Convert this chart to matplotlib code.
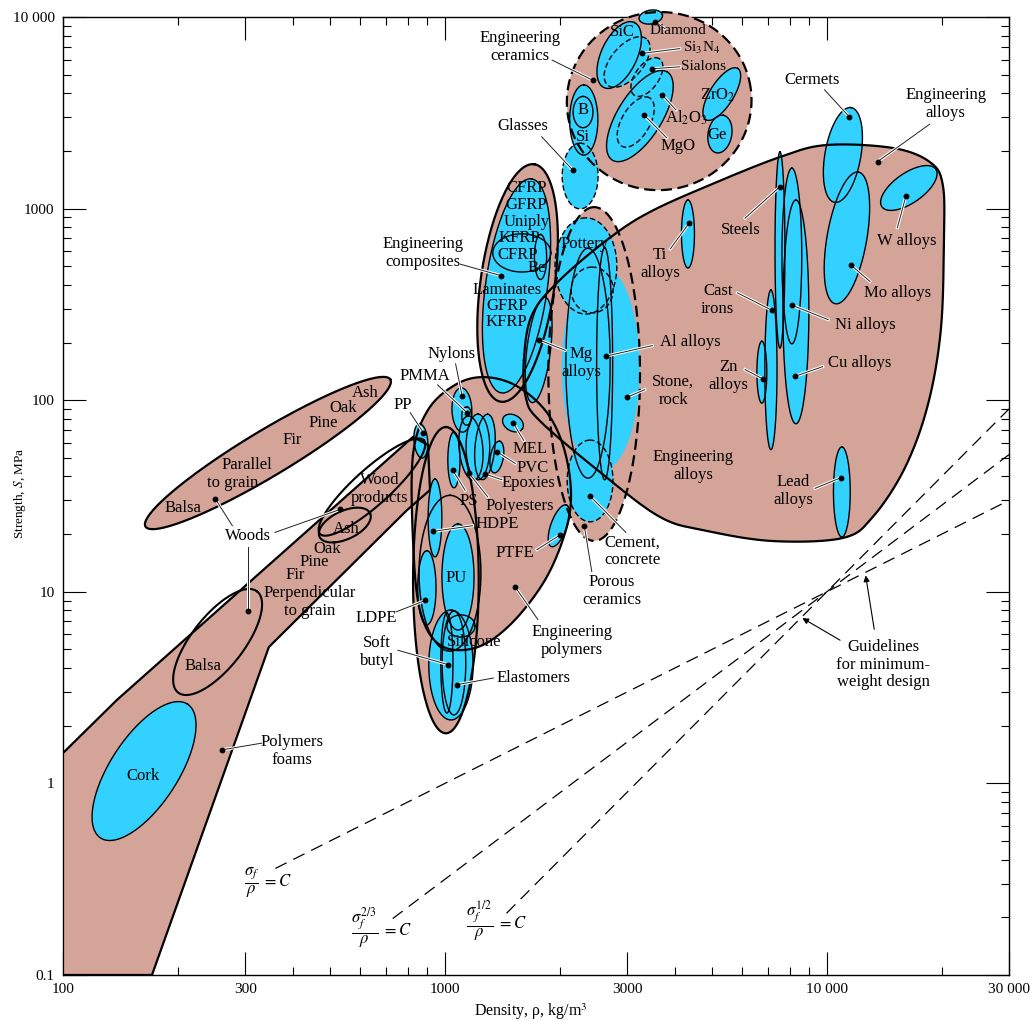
import numpy as np
import matplotlib
matplotlib.use('Agg')
import matplotlib.pyplot as plt
from matplotlib import patheffects as pe
from matplotlib.ticker import NullFormatter

plt.rcParams['font.family'] = ['Liberation Serif', 'DejaVu Serif']
plt.rcParams['mathtext.fontset'] = 'stix'

BROWN = '#d5a499'
CYAN = '#33d1ff'

# ---------------- data ----------------
# elliptical envelopes: centre density (kg/m3), centre strength (MPa),
# half axes (in decades of density on the paper) and tilt (deg)
env_names = ['Woods, parallel to grain', 'Engineering composites', 'Porous ceramics',
             'Elastomers', 'Engineering ceramics']
env_rho = [344, 1550, 2460, 1006, 3640]
env_S = [53.0, 409, 137, 11.5, 3640]
env_a = [0.374, 0.314, 0.437, 0.401, 0.242]
env_b = [0.060, 0.097, 0.120, 0.086, 0.233]
env_tilt = [31, 82, 90, 90, 8]
env_dashed = [False, False, True, False, True]

# free-form envelopes (outline points)
foam_rho = [100, 100, 138.5, 825, 903, 914, 796, 346, 171]
foam_S = [0.1, 1.44, 2.73, 64.3, 58.4, 34.0, 26.7, 5.15, 0.1]
alloy_rho = [1610, 1690, 2000, 2700, 3440, 4940, 7540, 10000, 14890, 18610, 20130,
             20260, 19890, 18390, 16010, 13200, 11020, 7230, 4850, 3655, 2546, 1774, 1630]
alloy_S = [162, 278, 424, 703, 960, 1328, 1859, 2148, 2072, 1751, 1328,
           686, 233, 94.4, 44.3, 24.6, 19.1, 18.4, 20.8, 24.6, 42.2, 77.9, 102.7]
polymer_rho = [825, 903, 1062, 1258, 1525, 1828, 2037, 2138, 2074, 1828, 1480, 1198, 970, 860, 825]
polymer_S = [51.8, 88.9, 120, 132, 120, 88.9, 58.4, 34.0, 21.0, 11.5, 6.71, 5.09, 5.28, 8.04, 18.6]

# material bubbles
bub_names = ['Cork', 'Glasses', 'B', 'B core', 'Diamond', 'Al2O3', 'SiC', 'Si3N4', 'Sialons',
             'MgO', 'ZrO2', 'Ge', 'Composites', 'Be', 'Mg alloys', 'Stone', 'Pottery', 'Cement',
             'PP', 'Nylons', 'PMMA', 'PS', 'Polyesters', 'Polyesters 2', 'Epoxies', 'PVC', 'MEL',
             'HDPE', 'LDPE', 'PU', 'Elastomers', 'Silicone', 'PTFE', 'Ti alloys', 'Cermets',
             'Mo alloys', 'W alloys', 'Cu alloys', 'Ni alloys', 'Steels', 'Cast irons',
             'Zn alloys', 'Lead alloys']
bub_rho = [163, 2260, 2310, 2300, 3460, 3240, 2860, 3000, 3380,
           3160, 5310, 5250, 1540, 1780, 1760, 2560, 2340, 2400,
           865, 1108, 1140, 1056, 1170, 1220, 1273, 1368, 1507,
           942, 897, 1082, 1037, 1102, 1988, 4330, 11020,
           11290, 16400, 8300, 8100, 7540, 7140, 6760, 10950]
bub_S = [1.16, 1480, 2900, 3190, 10000, 3040, 6330, 5820, 4860,
         2830, 3960, 2450, 395, 559, 183, 147, 502, 37.9,
         61.3, 88.9, 82.7, 48.8, 56.3, 57.0, 57.0, 50.5, 76.0,
         24.3, 10.5, 11.95, 4.15, 6.63, 22.1, 737, 1905,
         703, 1281, 289, 566, 608, 144, 140, 33.2]
bub_a = [0.209, 0.086, 0.092, 0.041, 0.031, 0.136, 0.094, 0.079, 0.058,
         0.073, 0.079, 0.050, 0.283, 0.059, 0.139, 0.270, 0.126, 0.107,
         0.045, 0.058, 0.024, 0.073, 0.084, 0.086, 0.086, 0.042, 0.029,
         0.102, 0.097, 0.139, 0.144, 0.037, 0.058, 0.089, 0.126,
         0.175, 0.086, 0.293, 0.230, 0.257, 0.209, 0.081, 0.118]
bub_b = [0.089, 0.047, 0.037, 0.026, 0.018, 0.058, 0.047, 0.042, 0.031,
         0.037, 0.031, 0.031, 0.081, 0.016, 0.031, 0.102, 0.081, 0.060,
         0.018, 0.026, 0.013, 0.016, 0.031, 0.031, 0.026, 0.017, 0.021,
         0.018, 0.024, 0.042, 0.058, 0.029, 0.021, 0.017, 0.047,
         0.052, 0.039, 0.034, 0.026, 0.013, 0.016, 0.013, 0.022]
bub_tilt = [57, 90, 90, 90, 10, 58, 65, 50, 55,
            60, 58, 80, 82, 90, 83, 90, 90, 90,
            95, 92, 90, 90, 95, 90, 85, 80, -30,
            90, 90, 90, 90, 0, 70, 90, 80,
            80, 35, 90, 90, 90, 90, 90, 90]
bub_edge = ['solid', 'dashed', 'solid', 'solid', 'solid', 'solid', 'solid', 'dashed', 'dashed',
            'dashed', 'solid', 'solid', 'solid', 'solid', 'solid', 'none', 'dashed', 'dashed'] + \
           ['solid'] * 25

# outline-only sub-groups
sub_rho = [1590, 2430, 2620, 2370, 1031, 1056, 1012, 644, 547, 254]
sub_S = [587, 376, 155, 156, 12.5, 4.25, 4.25, 35.2, 22.3, 5.47]
sub_a = [0.076, 0.060, 0.304, 0.301, 0.204, 0.136, 0.131, 0.183, 0.073, 0.168]
sub_b = [0.050, 0.055, 0.021, 0.058, 0.081, 0.031, 0.016, 0.047, 0.037, 0.068]
sub_tilt = [0, 90, 90, 90, 90, 90, 90, 42, 25, 52]
sub_dashed = [False, True, False, False, False, False, False, False, False, False]
sub_width = [1.0, 1.0, 1.0, 1.0, 1.1, 1.0, 1.0, 1.5, 1.5, 1.5]

# minimum-weight guidelines (end points)
guide_rho = [[360, 30000], [730, 30000], [1450, 30000]]
guide_S = [[0.36, 30], [0.197, 52], [0.21, 90]]

# ---------------- figure ----------------
fig = plt.figure(figsize=(10.34, 10.21), dpi=100)
ax = fig.add_axes([63 / 1034, 46 / 1021, 946 / 1034, 958 / 1021])
ax.set_xscale('log')
ax.set_yscale('log')
ax.set_xlim(100, 30000)
ax.set_ylim(0.1, 10000)

pos = ax.get_position()
k = (pos.height * fig.get_figheight() / 5) / (pos.width * fig.get_figwidth() / np.log10(300))


def ellipse(rho, s, a, b, tilt, n=240):
    t = np.linspace(0, 2 * np.pi, n)
    u, v = a * np.cos(t), b * np.sin(t)
    th = np.radians(tilt)
    x = u * np.cos(th) - v * np.sin(th)
    y = u * np.sin(th) + v * np.cos(th)
    return 10 ** (np.log10(rho) + x), 10 ** (np.log10(s) + y / k)


def smooth(rho, s, n=24):
    p = np.column_stack([np.log10(rho), np.log10(s) * k])
    m = len(p)
    t = np.linspace(0, 1, n, endpoint=False)[:, None]
    out = []
    for i in range(m):
        p0, p1, p2, p3 = p[i - 1], p[i], p[(i + 1) % m], p[(i + 2) % m]
        out.append(0.5 * (2 * p1 + (p2 - p0) * t + (2 * p0 - 5 * p1 + 4 * p2 - p3) * t ** 2
                          + (3 * p1 - p0 - 3 * p2 + p3) * t ** 3))
    out = np.vstack(out + [out[0][:1]])
    return 10 ** out[:, 0], 10 ** (out[:, 1] / k)


DASH = (0, (5, 2.5))
envs = [(list(foam_rho) + [foam_rho[0]], list(foam_S) + [foam_S[0]], False, True)]
for i in range(len(env_names)):
    xy = ellipse(env_rho[i], env_S[i], env_a[i], env_b[i], env_tilt[i])
    envs.append((xy[0], xy[1], env_dashed[i], env_names[i] != 'Engineering ceramics'))
envs.insert(2, (*smooth(alloy_rho, alloy_S), False, True))
envs.insert(5, (*smooth(polymer_rho, polymer_S), False, True))

for x, y, dashed, clip in envs:
    ax.fill(x, y, color=BROWN, lw=0, zorder=1, clip_on=clip)
    ax.plot(x, y, color='k', lw=1.6, ls=DASH if dashed else '-', zorder=3, clip_on=clip)

for gx, gy in zip(guide_rho, guide_S):
    ax.plot(gx, gy, color='k', lw=0.9, ls=(0, (10, 6)), zorder=1.2)

for i in range(len(bub_names)):
    x, y = ellipse(bub_rho[i], bub_S[i], bub_a[i], bub_b[i], bub_tilt[i])
    top = bub_S[i] > 8000
    ax.fill(x, y, color=CYAN, lw=0, zorder=2, clip_on=not top)
    if bub_edge[i] != 'none':
        ax.plot(x, y, color='k', lw=1.0, ls=(0, (4, 2)) if bub_edge[i] == 'dashed' else '-',
                zorder=2.2, clip_on=not top)

for i in range(len(sub_rho)):
    x, y = ellipse(sub_rho[i], sub_S[i], sub_a[i], sub_b[i], sub_tilt[i])
    ax.plot(x, y, color='k', lw=sub_width[i], ls=(0, (4, 2)) if sub_dashed[i] else '-', zorder=2.4)

# ---------------- labels ----------------
labels = [
    ('Engineering\nceramics', 0.483, 0.969), ('SiC', 0.591, 0.984), ('Diamond', 0.650, 0.986),
    ('Si$_3$N$_4$', 0.675, 0.968), ('Sialons', 0.677, 0.948), ('ZrO$_2$', 0.692, 0.918),
    ('Al$_2$O$_3$', 0.659, 0.895), ('MgO', 0.650, 0.865), ('Ge', 0.691, 0.877),
    ('B', 0.550, 0.903), ('Si', 0.550, 0.875), ('Glasses', 0.486, 0.886),
    ('Cermets', 0.792, 0.934), ('Engineering\nalloys', 0.933, 0.909),
    ('CFRP', 0.490, 0.821), ('GFRP', 0.490, 0.804), ('Uniply', 0.490, 0.786),
    ('KFRP', 0.482, 0.769), ('CFRP', 0.481, 0.752), ('Be', 0.501, 0.738),
    ('Engineering\ncomposites', 0.381, 0.754), ('Laminates', 0.469, 0.715),
    ('GFRP', 0.469, 0.698), ('KFRP', 0.469, 0.682), ('Pottery', 0.551, 0.763),
    ('Ti\nalloys', 0.631, 0.742), ('Steels', 0.716, 0.778), ('W alloys', 0.892, 0.766),
    ('Mo alloys', 0.882, 0.712), ('Cast\nirons', 0.692, 0.705), ('Ni alloys', 0.848, 0.678),
    ('Al alloys', 0.663, 0.661), ('Cu alloys', 0.842, 0.639), ('Zn\nalloys', 0.703, 0.625),
    ('Stone,\nrock', 0.645, 0.610), ('Mg\nalloys', 0.548, 0.639),
    ('Engineering\nalloys', 0.666, 0.531), ('Lead\nalloys', 0.772, 0.505),
    ('Nylons', 0.411, 0.648), ('PMMA', 0.383, 0.625), ('PP', 0.359, 0.595),
    ('MEL', 0.494, 0.549), ('PVC', 0.496, 0.529), ('Epoxies', 0.492, 0.514),
    ('PS', 0.429, 0.495), ('Polyesters', 0.483, 0.490), ('HDPE', 0.459, 0.471),
    ('PTFE', 0.478, 0.440), ('Cement,\nconcrete', 0.602, 0.442),
    ('Porous\nceramics', 0.580, 0.401), ('PU', 0.416, 0.414),
    ('Engineering\npolymers', 0.538, 0.349), ('LDPE', 0.331, 0.373),
    ('Silicone', 0.435, 0.348), ('Soft\nbutyl', 0.332, 0.337), ('Elastomers', 0.497, 0.310),
    ('Ash', 0.319, 0.607), ('Oak', 0.296, 0.592), ('Pine', 0.275, 0.576), ('Fir', 0.242, 0.558),
    ('Parallel', 0.194, 0.532), ('to grain', 0.179, 0.514), ('Balsa', 0.127, 0.487),
    ('Woods', 0.196, 0.458), ('Wood\nproducts', 0.335, 0.507),
    ('Ash', 0.299, 0.466), ('Oak', 0.279, 0.445), ('Pine', 0.266, 0.431), ('Fir', 0.245, 0.418),
    ('Perpendicular', 0.261, 0.399), ('to grain', 0.261, 0.380),
    ('Balsa', 0.148, 0.323), ('Cork', 0.085, 0.208), ('Polymers\nfoams', 0.242, 0.234),
    ('Guidelines\nfor minimum-\nweight design', 0.867, 0.324),
]
small_labels = ['Diamond', 'Si$_3$N$_4$', 'Sialons']
leaders = [
    (0.517, 0.955, 0.560, 0.934), (0.636, 0.988, 0.626, 0.995), (0.652, 0.967, 0.612, 0.962),
    (0.652, 0.948, 0.623, 0.946), (0.648, 0.903, 0.633, 0.919), (0.638, 0.874, 0.614, 0.898),
    (0.506, 0.875, 0.539, 0.840), (0.805, 0.924, 0.831, 0.896), (0.916, 0.888, 0.861, 0.849),
    (0.420, 0.742, 0.463, 0.730), (0.642, 0.758, 0.662, 0.785), (0.721, 0.790, 0.758, 0.823),
    (0.882, 0.780, 0.891, 0.813), (0.853, 0.724, 0.833, 0.741), (0.713, 0.712, 0.749, 0.694),
    (0.809, 0.684, 0.771, 0.699), (0.623, 0.657, 0.574, 0.646), (0.803, 0.635, 0.774, 0.625),
    (0.721, 0.632, 0.740, 0.622), (0.615, 0.611, 0.596, 0.603), (0.531, 0.652, 0.503, 0.663),
    (0.795, 0.508, 0.822, 0.519), (0.415, 0.638, 0.422, 0.604), (0.396, 0.616, 0.427, 0.587),
    (0.367, 0.587, 0.381, 0.566), (0.487, 0.558, 0.476, 0.576), (0.478, 0.534, 0.459, 0.546),
    (0.464, 0.517, 0.446, 0.523), (0.425, 0.506, 0.412, 0.527), (0.449, 0.499, 0.429, 0.524),
    (0.433, 0.469, 0.391, 0.463), (0.501, 0.444, 0.525, 0.459), (0.595, 0.462, 0.557, 0.500),
    (0.559, 0.421, 0.551, 0.469), (0.502, 0.371, 0.478, 0.405), (0.352, 0.379, 0.383, 0.391),
    (0.354, 0.339, 0.407, 0.324), (0.455, 0.310, 0.416, 0.303), (0.179, 0.469, 0.161, 0.497),
    (0.224, 0.462, 0.293, 0.486), (0.196, 0.447, 0.196, 0.380), (0.210, 0.242, 0.168, 0.235),
]
arrows = [(0.858, 0.358, 0.848, 0.420), (0.824, 0.348, 0.779, 0.374)]
formulas = [(r'$\dfrac{\sigma_f}{\rho}\ = C$', 0.217, 0.096),
            (r'$\dfrac{\sigma_f^{2/3}}{\rho}\ = C$', 0.337, 0.049),
            (r'$\dfrac{\sigma_f^{1/2}}{\rho}\ = C$', 0.458, 0.057)]

halo = [pe.Stroke(linewidth=2.2, foreground='white'), pe.Normal()]
for x0, y0, x1, y1 in leaders:
    ax.plot([x0, x1], [y0, y1], color='#222222', lw=0.7, transform=ax.transAxes,
            zorder=4, clip_on=False, path_effects=halo)
    ax.plot(x1, y1, 'o', ms=3.2, color='k', transform=ax.transAxes, zorder=4.1, clip_on=False)
for x0, y0, x1, y1 in arrows:
    ax.annotate('', xy=(x1, y1), xytext=(x0, y0), xycoords='axes fraction',
                arrowprops=dict(arrowstyle='-|>', lw=0.8, color='k', mutation_scale=9), zorder=4)
for txt, x, y in labels:
    ax.text(x, y, txt, transform=ax.transAxes, ha='center', va='center',
            fontsize=11 if txt in small_labels else 12,
            linespacing=1.15, zorder=5, clip_on=False)
for txt, x, y in formulas:
    ax.text(x, y, txt, transform=ax.transAxes, ha='center', va='center', fontsize=12, zorder=5)

# ---------------- axes ----------------
ax.set_xticks([100, 300, 1000, 3000, 10000, 30000],
              ['100', '300', '1000', '3000', '10 000', '30 000'])
ax.set_xticks([200, 400, 500, 600, 700, 800, 900, 2000, 4000, 5000, 6000, 7000, 8000, 9000, 20000],
              minor=True)
ax.set_yticks([0.1, 1, 10, 100, 1000, 10000], ['0.1', '1', '10', '100', '1000', '10 000'])
ax.set_yticks([m * 10.0 ** e for e in range(-1, 4) for m in range(2, 10)], minor=True)
ax.xaxis.set_minor_formatter(NullFormatter())
ax.yaxis.set_minor_formatter(NullFormatter())
ax.tick_params(which='both', direction='in', top=True, right=True, width=0.8, labelsize=11, pad=6)
ax.tick_params(which='major', length=16.5)
ax.tick_params(which='minor', length=6)
ax.set_axisbelow(True)
for sp in ax.spines.values():
    sp.set_zorder(0.6)
    sp.set_linewidth(1.0)

ax.set_xlabel('Density, ρ, kg/m$^3$', fontsize=11.5)
ax.xaxis.set_label_coords(0.494, -0.0386)
ax.xaxis.label.set_va('center')
ax.set_ylabel('Strength, $S$, MPa', fontsize=9.5)
ax.yaxis.set_label_coords(-0.0455, 0.503)
ax.yaxis.label.set_va('center')

fig.savefig('out.png', dpi=100)
